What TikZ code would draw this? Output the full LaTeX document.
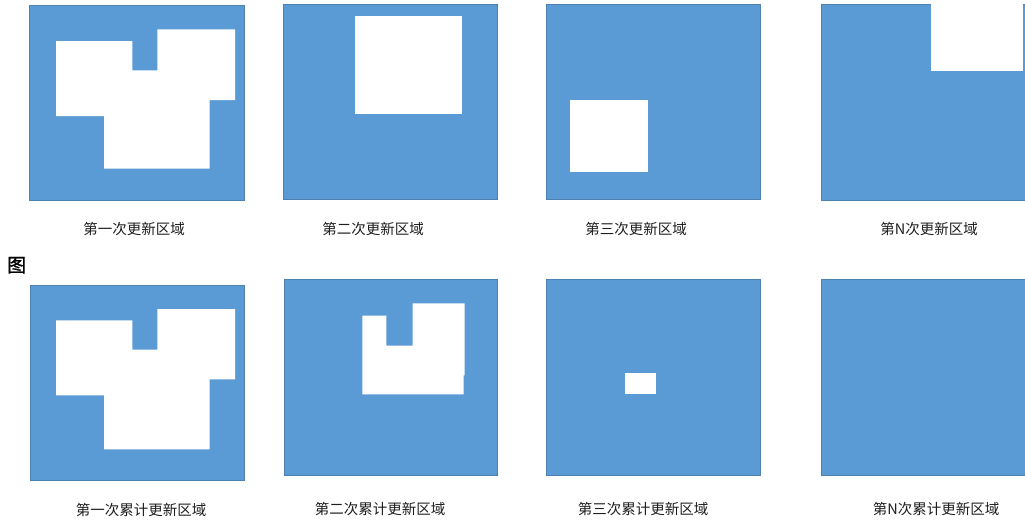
\documentclass[tikz,border=0pt]{standalone}
\usepackage{fontspec}
\setmainfont{Noto Sans CJK SC}
\newfontfamily\figfont[FakeBold=1.2]{Noto Sans CJK SC}
\definecolor{panelblue}{HTML}{5B9BD5}
\definecolor{paneledge}{HTML}{4F81B0}
\definecolor{labeltext}{HTML}{1E1E1E}
\tikzset{
  panel/.style={fill=panelblue, draw=paneledge, line width=0.8pt},
  hole/.style={fill=white},
  caption/.style={font=\fontsize{14.5}{16}\selectfont, text=labeltext, inner sep=0pt, anchor=center},
}
\begin{document}
\begin{tikzpicture}[x=1pt,y=-1pt]
\useasboundingbox (0,0) rectangle (1025,522);
\clip (0,0) rectangle (1025,522);
% ---------- top row ----------
\path[panel] (29.5,5) rectangle (244,200);
\path[hole] (56,41) -- (132.3,41) -- (132.3,70.3) -- (157.3,70.3) -- (157.3,29.3) -- (235,29.3) -- (235,100) -- (209.7,100) -- (209.7,168.7) -- (104,168.7) -- (104,116) -- (56,116) -- cycle;
\node[caption] (t1) at (134,229) {第一次更新区域};

\path[panel] (283,4) rectangle (497.7,199.3);
\path[hole] (355.3,15.7) rectangle (461.7,114);
\node[caption] (t2) at (373,229) {第二次更新区域};

\path[panel] (546.7,4.7) rectangle (760.7,199.3);
\path[hole] (570.3,100) rectangle (648.3,172);
\node[caption] (t3) at (636,229) {第三次更新区域};

\path[panel] (821,4.7) rectangle (1030,200.3);
\path[hole] (931.3,3.5) rectangle (1023.3,71.3);
\node[caption] (t4) at (929,229) {第N次更新区域};

\node[font=\figfont\fontsize{19}{21}\selectfont, text=black, inner sep=0pt] (fig) at (16.7,265.3) {图};

% ---------- bottom row ----------
\path[panel] (30.3,285) rectangle (244,480);
\path[hole] (56,320.3) -- (132.3,320.3) -- (132.3,349.7) -- (157.3,349.7) -- (157.3,309) -- (235,309) -- (235,379.3) -- (209.7,379.3) -- (209.7,449.3) -- (104,449.3) -- (104,395.3) -- (56,395.3) -- cycle;
\node[caption] (b1) at (141,510) {第一次累计更新区域};

\path[panel] (284,279.3) rectangle (497.7,475);
\path[hole] (362.3,315.7) -- (386.3,315.7) -- (386.3,345.7) -- (412.7,345.7) -- (412.7,303.3) -- (464.7,303.3) -- (464.7,375.3) -- (463.7,375.3) -- (463.7,394.3) -- (362.3,394.3) -- cycle;
\node[caption] (b2) at (380,509) {第二次累计更新区域};

\path[panel] (546.7,279.3) rectangle (760.7,475);
\path[hole] (625.3,372.7) rectangle (656,394.3);
\node[caption] (b3) at (643,509) {第三次累计更新区域};

\path[panel] (821,279.3) rectangle (1030,475);
\node[caption] (b4) at (936,509) {第N次累计更新区域};
\end{tikzpicture}
\end{document}
